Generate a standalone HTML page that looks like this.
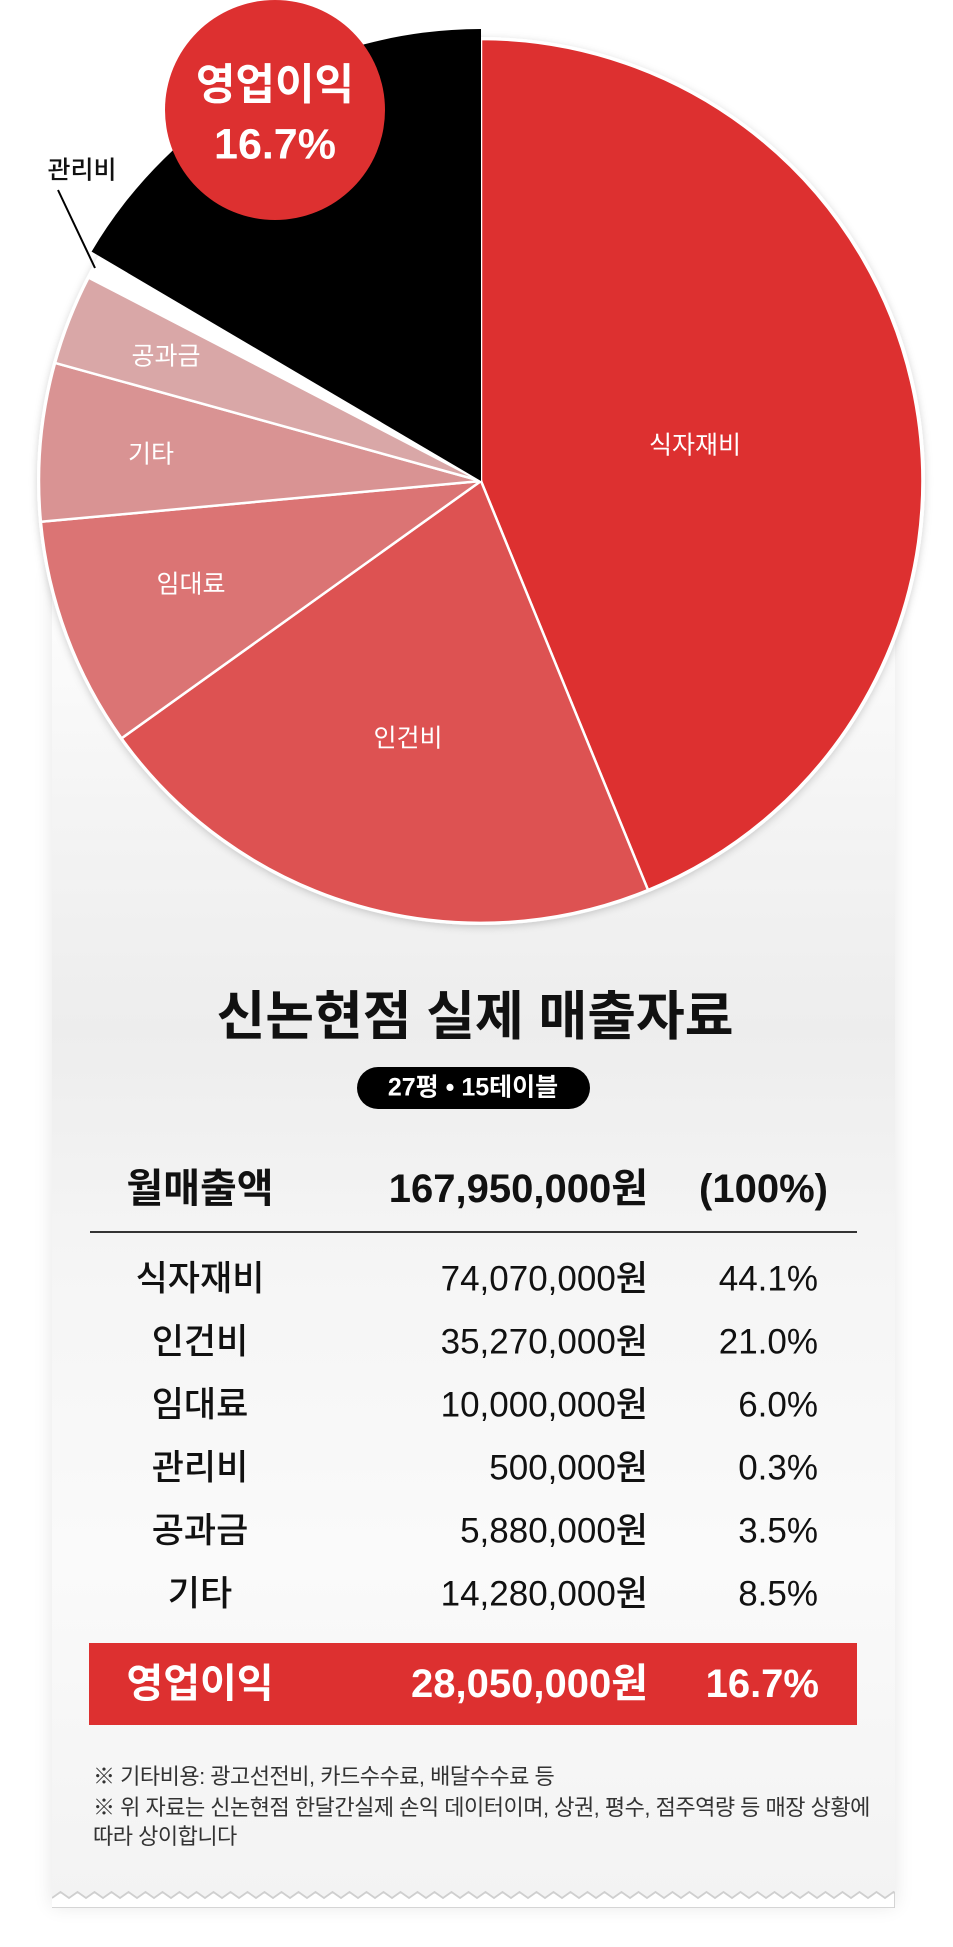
<!DOCTYPE html>
<html><head><meta charset="utf-8">
<style>
*{margin:0;padding:0;box-sizing:border-box}
body{width:953px;height:1947px;background:#fff;position:relative;overflow:hidden;font-family:"Liberation Sans","Noto Sans CJK KR",sans-serif;color:#111}
.card{position:absolute;left:52px;top:560px;width:843px;height:1338px;background:linear-gradient(#fff 0px,#f4f4f4 250px,#ededed 470px,#f5f5f5 700px,#fafafa 1000px,#f3f3f3 1338px);box-shadow:0 8px 18px rgba(0,0,0,.10)}
.t{position:absolute;white-space:nowrap;line-height:1}
.c{transform:translate(-50%,-50%)}
.r{transform:translate(-100%,-50%)}
.l{transform:translate(0,-50%)}
.row{font-size:35px;font-weight:500}
.pl{font-size:25px;color:#fff}
</style></head><body>
<div class="card"></div>
<svg style="position:absolute;left:52px;top:1888px" width="843" height="20">
<path d="M0 10 l0 -10 843 0 0 10 " fill="#f3f3f3"/>
<polyline fill="#fff" stroke="#cfcfcf" stroke-width="1.8" points="0,10 8.5,4 17,10 25.5,4 34,10 42.5,4 51,10 59.5,4 68,10 76.5,4 85,10 93.5,4 102,10 110.5,4 119,10 127.5,4 136,10 144.5,4 153,10 161.5,4 170,10 178.5,4 187,10 195.5,4 204,10 212.5,4 221,10 229.5,4 238,10 246.5,4 255,10 263.5,4 272,10 280.5,4 289,10 297.5,4 306,10 314.5,4 323,10 331.5,4 340,10 348.5,4 357,10 365.5,4 374,10 382.5,4 391,10 399.5,4 408,10 416.5,4 425,10 433.5,4 442,10 450.5,4 459,10 467.5,4 476,10 484.5,4 493,10 501.5,4 510,10 518.5,4 527,10 535.5,4 544,10 552.5,4 561,10 569.5,4 578,10 586.5,4 595,10 603.5,4 612,10 620.5,4 629,10 637.5,4 646,10 654.5,4 663,10 671.5,4 680,10 688.5,4 697,10 705.5,4 714,10 722.5,4 731,10 739.5,4 748,10 756.5,4 765,10 773.5,4 782,10 790.5,4 799,10 807.5,4 816,10 824.5,4 833,10 841.5,4 843,5 843,20 0,20"/>
</svg>
<svg style="position:absolute;left:0;top:0" width="953" height="960">
<defs><filter id="sh" x="-10%" y="-10%" width="120%" height="120%"><feDropShadow dx="0" dy="2" stdDeviation="4" flood-color="#000" flood-opacity=".18"/></filter></defs>
<circle cx="481" cy="481" r="444" fill="#fff" filter="url(#sh)"/>
<g stroke="#fff" stroke-width="2.5" stroke-linejoin="round">
<path d="M481 481 L481 39 A442 442 0 0 1 648 890 Z" fill="#dd3030"/>
<path d="M481 481 L648 890 A442 442 0 0 1 121.6 738.3 Z" fill="#dd5252"/>
<path d="M481 481 L121.6 738.3 A442 442 0 0 1 40.9 521.8 Z" fill="#db7474"/>
<path d="M481 481 L40.9 521.8 A442 442 0 0 1 55.1 362.9 Z" fill="#d99393"/>
<path d="M481 481 L55.1 362.9 A442 442 0 0 1 88.6 277.6 Z" fill="#d9a7a7"/>
</g>
<path d="M481 481 L91.6 251.6 A452 452 0 0 1 481 29 Z" fill="#000"/>
<line x1="58" y1="190" x2="95" y2="268" stroke="#000" stroke-width="2"/>
<circle cx="275" cy="110" r="110" fill="#dd3030"/>
</svg>
<div class="t c" style="left:275px;top:86px;font-size:43px;font-weight:700;color:#fff">영업이익</div>
<div class="t c" style="left:275px;top:145px;font-size:43px;font-weight:700;color:#fff">16.7%</div>
<div class="t c" style="left:82px;top:171px;font-size:25px;font-weight:500">관리비</div>
<div class="t c pl" style="left:695px;top:446px">식자재비</div>
<div class="t c pl" style="left:408px;top:739px">인건비</div>
<div class="t c pl" style="left:191px;top:585px">임대료</div>
<div class="t c pl" style="left:151px;top:455px">기타</div>
<div class="t c pl" style="left:166px;top:357px">공과금</div>

<div class="t c" style="left:475px;top:1017px;font-size:53px;font-weight:700">신논현점 실제 매출자료</div>
<div style="position:absolute;left:357px;top:1067px;width:233px;height:42px;border-radius:21px;background:#000"></div>
<div class="t c" style="left:473px;top:1088px;font-size:25px;font-weight:700;color:#fff">27평 • 15테이블</div>

<div class="t c" style="left:200px;top:1189px;font-size:40px;font-weight:700">월매출액</div>
<div class="t r" style="left:648px;top:1189px;font-size:40px;font-weight:700">167,950,000원</div>
<div class="t r" style="left:828px;top:1189px;font-size:40px;font-weight:700">(100%)</div>
<div style="position:absolute;left:90px;top:1231px;width:767px;height:2px;background:#333"></div>

<div class="t c row" style="left:200px;top:1279px">식자재비</div><div class="t r row" style="left:648px;top:1279px">74,070,000원</div><div class="t r row" style="left:818px;top:1279px">44.1%</div>
<div class="t c row" style="left:200px;top:1342px">인건비</div><div class="t r row" style="left:648px;top:1342px">35,270,000원</div><div class="t r row" style="left:818px;top:1342px">21.0%</div>
<div class="t c row" style="left:200px;top:1405px">임대료</div><div class="t r row" style="left:648px;top:1405px">10,000,000원</div><div class="t r row" style="left:818px;top:1405px">6.0%</div>
<div class="t c row" style="left:200px;top:1468px">관리비</div><div class="t r row" style="left:648px;top:1468px">500,000원</div><div class="t r row" style="left:818px;top:1468px">0.3%</div>
<div class="t c row" style="left:200px;top:1531px">공과금</div><div class="t r row" style="left:648px;top:1531px">5,880,000원</div><div class="t r row" style="left:818px;top:1531px">3.5%</div>
<div class="t c row" style="left:200px;top:1594px">기타</div><div class="t r row" style="left:648px;top:1594px">14,280,000원</div><div class="t r row" style="left:818px;top:1594px">8.5%</div>

<div style="position:absolute;left:89px;top:1643px;width:768px;height:82px;background:#dd3030"></div>
<div class="t c" style="left:200px;top:1684px;font-size:40px;font-weight:700;color:#fff">영업이익</div>
<div class="t r" style="left:648px;top:1684px;font-size:40px;font-weight:700;color:#fff">28,050,000원</div>
<div class="t r" style="left:819px;top:1684px;font-size:40px;font-weight:700;color:#fff">16.7%</div>

<div class="t l" style="left:93px;top:1777px;font-size:22px;letter-spacing:-0.5px;color:#333">※ 기타비용: 광고선전비, 카드수수료, 배달수수료 등</div>
<div class="t l" style="left:93px;top:1808px;font-size:22px;letter-spacing:-0.5px;color:#333">※ 위 자료는 신논현점 한달간실제 손익 데이터이며, 상권, 평수, 점주역량 등 매장 상황에</div>
<div class="t l" style="left:93px;top:1837px;font-size:22px;letter-spacing:-0.5px;color:#333">따라 상이합니다</div>
</body></html>
